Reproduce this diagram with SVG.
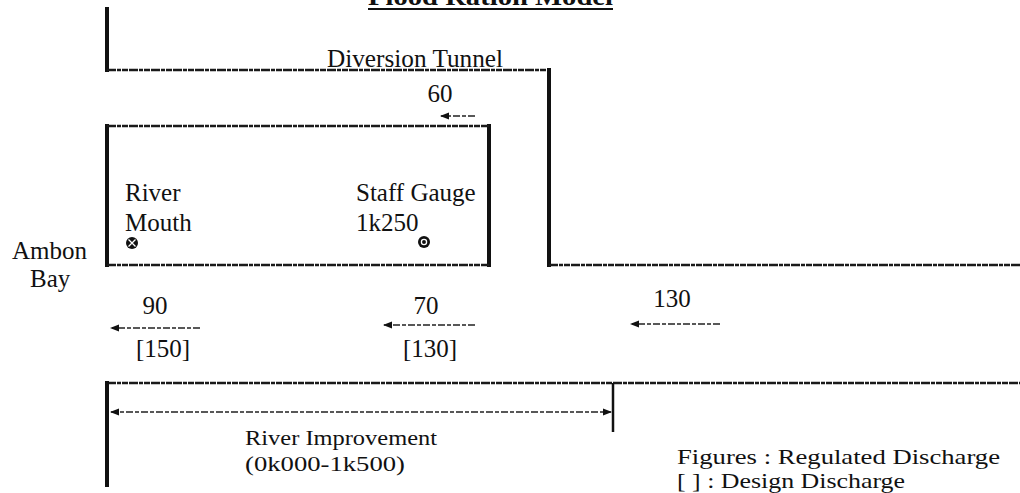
<svg xmlns="http://www.w3.org/2000/svg" width="1020" height="493" viewBox="0 0 1020 493">
<style>
text{font-family:"Liberation Serif","Times New Roman",serif;fill:#111;font-size:25px}
.wall{stroke:#111;stroke-width:4;fill:none;stroke-linecap:square}
.bank{stroke:#1a1a1a;stroke-width:2.5;fill:none;stroke-dasharray:9 1 4 1 6 1}
.flow{stroke:#222;stroke-width:1.3;fill:none;stroke-dasharray:7 2 4 2}
.g{fill:#111;stroke:none}
.s{font-size:22px}
</style>
<defs>
<marker id="ah" markerWidth="9" markerHeight="8" refX="8" refY="4" orient="auto-start-reverse" markerUnits="userSpaceOnUse">
<path d="M9,4 L0,0.5 L0,7.5 Z" fill="#111"/>
</marker>
</defs>
<rect width="1020" height="493" fill="#fff"/>
<g id="title">
<text x="368" y="5" font-weight="bold" font-size="28" textLength="245" lengthAdjust="spacingAndGlyphs">Flood Ration Model</text>
<line x1="368" y1="9" x2="613" y2="9" stroke="#111" stroke-width="2"/>
</g>
<g id="diversion-tunnel">
<path class="wall" d="M107,9 V70"/>
<path class="bank" d="M107,70 H549"/>
<path class="wall" d="M549,70 V265"/>
<path class="bank" d="M549,265 H1020"/>
<text x="327" y="67" textLength="176" lengthAdjust="spacingAndGlyphs">Diversion Tunnel</text>
</g>
<g id="old-channel">
<path class="wall" d="M107,126 V265"/>
<path class="wall" d="M489,126 V265"/>
<path class="bank" d="M107,126 H489"/>
<path class="bank" d="M107,265 H489"/>
</g>
<g id="river-mouth">
<text x="125" y="201">River</text>
<text x="125" y="231">Mouth</text>
<circle cx="132" cy="243" r="6" class="g"/>
<path d="M128.5,239.5 L135.5,246.5 M135.5,239.5 L128.5,246.5" stroke="#fff" stroke-width="1.3"/>
</g>
<g id="staff-gauge">
<text x="356" y="201">Staff Gauge</text>
<text x="356" y="231">1k250</text>
<circle cx="424" cy="242" r="6" class="g"/>
<circle cx="424" cy="242" r="2.6" fill="none" stroke="#fff" stroke-width="1.3"/>
</g>
<g id="ambon-bay">
<text x="12" y="259">Ambon</text>
<text x="30" y="287">Bay</text>
</g>
<g id="river-improvement">
<path class="bank" d="M107,383 H1020"/>
<path class="wall" d="M107,383 V485"/>
<path d="M613,383 V432" stroke="#111" stroke-width="2.5"/>
<text class="s" x="245" y="445" textLength="192" lengthAdjust="spacingAndGlyphs">River Improvement</text>
<text class="s" x="245" y="471" textLength="160" lengthAdjust="spacingAndGlyphs">(0k000-1k500)</text>
</g>
<g id="labels">
<text x="440" y="102" text-anchor="middle">60</text>
<text x="155" y="314" text-anchor="middle">90</text>
<text x="163" y="357" text-anchor="middle">[150]</text>
<text x="426" y="314" text-anchor="middle">70</text>
<text x="430" y="357" text-anchor="middle">[130]</text>
<text x="672" y="307" text-anchor="middle">130</text>
</g>
<g id="legend">
<text class="s" x="677" y="464" textLength="323" lengthAdjust="spacingAndGlyphs">Figures : Regulated Discharge</text>
<text class="s" x="677" y="488" textLength="228" lengthAdjust="spacingAndGlyphs">[ ] : Design Discharge</text>
</g>
<g id="connectors">
<path class="flow" d="M475,116 H441" marker-end="url(#ah)"/>
<path class="flow" d="M200,328 H111" marker-end="url(#ah)"/>
<path class="flow" d="M475,325 H384" marker-end="url(#ah)"/>
<path class="flow" d="M720,324 H631" marker-end="url(#ah)"/>
<path class="flow" d="M111,412 H611" marker-start="url(#ah)" marker-end="url(#ah)"/>
</g>
</svg>
